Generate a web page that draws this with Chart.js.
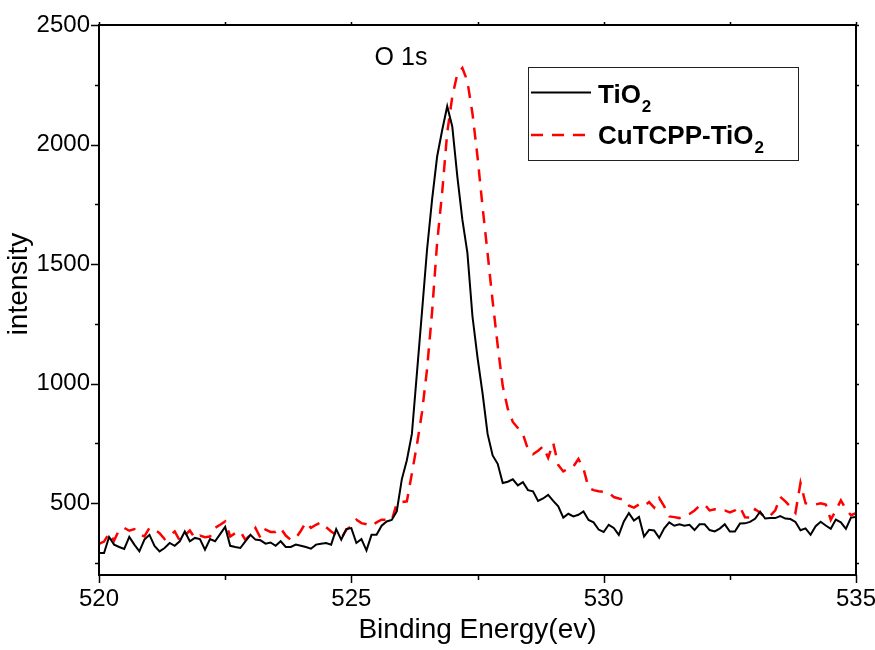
<!DOCTYPE html>
<html>
<head>
<meta charset="utf-8">
<script src="https://cdn.jsdelivr.net/npm/chart.js@4.4.1/dist/chart.umd.min.js"></script>
<style>
  body { margin: 0; background: #fff; }
  canvas { display: block; }
</style>
</head>
<body>
<canvas id="xps" width="875" height="650"></canvas>
<script>
// Binding energy (eV), 0.1 eV steps
const energies = [
  520.0, 520.1, 520.2, 520.3, 520.4, 520.5, 520.6, 520.7, 520.8, 520.9,
  521.0, 521.1, 521.2, 521.3, 521.4, 521.5, 521.6, 521.7, 521.8, 521.9,
  522.0, 522.1, 522.2, 522.3, 522.4, 522.5, 522.6, 522.7, 522.8, 522.9,
  523.0, 523.1, 523.2, 523.3, 523.4, 523.5, 523.6, 523.7, 523.8, 523.9,
  524.0, 524.1, 524.2, 524.3, 524.4, 524.5, 524.6, 524.7, 524.8, 524.9,
  525.0, 525.1, 525.2, 525.3, 525.4, 525.5, 525.6, 525.7, 525.8, 525.9,
  526.0, 526.1, 526.2, 526.3, 526.4, 526.5, 526.6, 526.7, 526.8, 526.9,
  527.0, 527.1, 527.2, 527.3, 527.4, 527.5, 527.6, 527.7, 527.8, 527.9,
  528.0, 528.1, 528.2, 528.3, 528.4, 528.5, 528.6, 528.7, 528.8, 528.9,
  529.0, 529.1, 529.2, 529.3, 529.4, 529.5, 529.6, 529.7, 529.8, 529.9,
  530.0, 530.1, 530.2, 530.3, 530.4, 530.5, 530.6, 530.7, 530.8, 530.9,
  531.0, 531.1, 531.2, 531.3, 531.4, 531.5, 531.6, 531.7, 531.8, 531.9,
  532.0, 532.1, 532.2, 532.3, 532.4, 532.5, 532.6, 532.7, 532.8, 532.9,
  533.0, 533.1, 533.2, 533.3, 533.4, 533.5, 533.6, 533.7, 533.8, 533.9,
  534.0, 534.1, 534.2, 534.3, 534.4, 534.5, 534.6, 534.7, 534.8, 534.9,
  535.0
];

// TiO2 intensity
const tio2 = [
  292, 292, 359, 327, 317, 309, 359, 327, 299, 348,
  368, 322, 299, 313, 334, 322, 341, 382, 341, 355,
  350, 306, 350, 341, 371, 401, 322, 317, 313, 341,
  368, 348, 345, 331, 336, 322, 341, 317, 317, 327,
  322, 317, 310, 327, 331, 334, 327, 392, 348, 392,
  396, 334, 350, 303, 368, 368, 406, 424, 430, 466,
  600, 680, 790, 1045, 1300, 1560, 1770, 1950, 2060, 2160,
  2076, 1867, 1686, 1547, 1282, 1110, 960, 790, 700, 665,
  585, 590, 600, 575, 588, 555, 550, 510, 520, 535,
  510, 487, 440, 456, 445, 452, 466, 430, 420, 390,
  380, 410, 397, 368, 424, 459, 428, 443, 361, 389,
  386, 355, 395, 420, 406, 412, 406, 410, 388, 412,
  412, 388, 382, 394, 412, 382, 382, 415, 416, 422,
  435, 465, 436, 438, 438, 446, 436, 434, 422, 387,
  395, 368, 404, 423, 407, 393, 432, 420, 393, 440,
  443
];

// CuTCPP-TiO2 intensity
const cutcpp = [
  330, 340, 375, 344, 390, 397, 385, 392, 370, 361,
  397, 390, 375, 350, 365, 382, 344, 365, 386, 354,
  365, 358, 361, 397, 410, 424, 361, 375, 382, 347,
  368, 397, 355, 390, 380, 380, 396, 365, 347, 354,
  385, 420, 397, 410, 420, 400, 382, 368, 354, 389,
  405, 431, 417, 412, 405, 420, 431, 431, 428, 500,
  505, 508, 625, 745, 880, 1060, 1300, 1590, 1800, 2050,
  2200, 2295, 2320, 2265, 2130, 1950, 1740, 1545, 1345, 1160,
  990, 895, 840, 815, 790, 725, 705, 720, 738, 690,
  752, 660, 633, 645, 654, 685, 645, 565, 555, 550,
  548, 545, 526, 520, 515, 490, 482, 495, 488, 505,
  482, 522, 487, 445, 442, 438, 445, 455, 470, 490,
  495, 470, 475, 469, 470, 462, 470, 485, 441, 440,
  475, 460, 440, 448, 470, 527, 508, 485, 460, 585,
  500, 495, 495, 500, 495, 431, 470, 512, 475, 450,
  459
];

const seriesNames = ['TiO2', 'CuTCPP-TiO2'];
const xTicks = [520, 525, 530, 535];
const xMinor = [522.5, 527.5, 532.5];
const yTicks = [500, 1000, 1500, 2000, 2500];
const yMinor = [250, 750, 1250, 1750, 2250];

Chart.defaults.font.family = '"Liberation Sans", Arial, sans-serif';
Chart.defaults.color = '#000';

// frame, ticks, y title, peak label and the boxed legend
const decor = {
  id: 'decor',
  afterDraw(chart) {
    const ctx = chart.ctx;
    const a = chart.chartArea;
    const x = chart.scales.x, y = chart.scales.y;
    ctx.save();
    ctx.strokeStyle = '#000';
    ctx.lineWidth = 2;
    ctx.strokeRect(a.left, a.top, a.right - a.left, a.bottom - a.top);

    ctx.lineWidth = 1.5;
    ctx.beginPath();
    xTicks.concat(xMinor).forEach(v => {
      const px = Math.round(x.getPixelForValue(v)) + 0.5;
      const len = xTicks.includes(v) ? 8 : 5;
      ctx.moveTo(px, a.bottom); ctx.lineTo(px, a.bottom + len);
      ctx.moveTo(px, a.top); ctx.lineTo(px, a.top - 3);
    });
    yTicks.concat(yMinor).forEach(v => {
      const py = Math.round(y.getPixelForValue(v)) + 0.5;
      const len = yTicks.includes(v) ? 8 : 4;
      ctx.moveTo(a.left, py); ctx.lineTo(a.left - len, py);
      ctx.moveTo(a.right, py); ctx.lineTo(a.right + 3, py);
    });
    ctx.stroke();

    // y axis title
    ctx.fillStyle = '#000';
    ctx.save();
    ctx.translate(19, 284);
    ctx.rotate(-Math.PI / 2);
    ctx.textAlign = 'center';
    ctx.textBaseline = 'middle';
    ctx.font = '28px "Liberation Sans", Arial, sans-serif';
    ctx.fillText('intensity', 0, 0);
    ctx.restore();

    // peak label
    ctx.textAlign = 'center';
    ctx.textBaseline = 'alphabetic';
    ctx.font = '25px "Liberation Sans", Arial, sans-serif';
    ctx.fillText('O 1s', 401, 65);

    // legend
    ctx.lineWidth = 1;
    ctx.strokeStyle = '#222';
    ctx.strokeRect(528.5, 67.5, 270, 93);
    const rows = [{ ly: 92.5, base: 103 }, { ly: 135, base: 144 }];
    chart.data.datasets.forEach((ds, i) => {
      const r = rows[i];
      ctx.strokeStyle = ds.borderColor;
      ctx.lineWidth = ds.borderWidth;
      ctx.setLineDash(ds.borderDash || []);
      ctx.beginPath();
      ctx.moveTo(531, r.ly); ctx.lineTo(591, r.ly);
      ctx.stroke();
      ctx.setLineDash([]);
      const m = ds.label.match(/^(.*?)(\d+)$/);
      const main = m ? m[1] : ds.label;
      ctx.textAlign = 'left';
      ctx.font = 'bold 26px "Liberation Sans", Arial, sans-serif';
      ctx.fillText(main, 598, r.base);
      if (m) {
        const w = ctx.measureText(main).width;
        ctx.font = 'bold 17px "Liberation Sans", Arial, sans-serif';
        ctx.fillText(m[2], 598 + w + 1, r.base + 9);
      }
    });
    ctx.restore();
  }
};

new Chart(document.getElementById('xps'), {
  type: 'line',
  data: {
    datasets: [
      {
        label: seriesNames[0],
        data: energies.map((e, i) => ({ x: e, y: tio2[i] })),
        borderColor: '#000000',
        borderWidth: 2,
        pointRadius: 0,
        tension: 0
      },
      {
        label: seriesNames[1],
        data: energies.map((e, i) => ({ x: e, y: cutcpp[i] })),
        borderColor: '#ff0000',
        borderWidth: 2.5,
        borderDash: [12, 9],
        pointRadius: 0,
        tension: 0
      }
    ]
  },
  options: {
    responsive: false,
    animation: false,
    layout: { padding: { top: 25, right: 19, left: 0, bottom: 0 } },
    plugins: {
      legend: { display: false },
      tooltip: { enabled: false }
    },
    scales: {
      x: {
        type: 'linear',
        min: 520,
        max: 535,
        afterBuildTicks: s => { s.ticks = xTicks.map(v => ({ value: v })); },
        afterFit: s => { s.height = 75; s.paddingLeft = 0; s.paddingRight = 0; },
        grid: { display: false, drawTicks: false },
        border: { display: false },
        ticks: {
          padding: 10, autoSkip: false, maxRotation: 0, font: { size: 24 },
          callback: v => String(v)
        },
        title: {
          display: true,
          text: 'Binding Energy(ev)',
          font: { size: 28 },
          padding: { top: 0, bottom: 3 }
        }
      },
      y: {
        min: 200,
        max: 2500,
        afterBuildTicks: s => { s.ticks = yTicks.map(v => ({ value: v })); },
        afterFit: s => { s.width = 99; s.paddingTop = 0; s.paddingBottom = 0; },
        grid: { display: false, drawTicks: false },
        border: { display: false },
        ticks: { padding: 9, font: { size: 24 }, callback: v => String(v) }
      }
    }
  },
  plugins: [decor]
});
</script>
</body>
</html>
